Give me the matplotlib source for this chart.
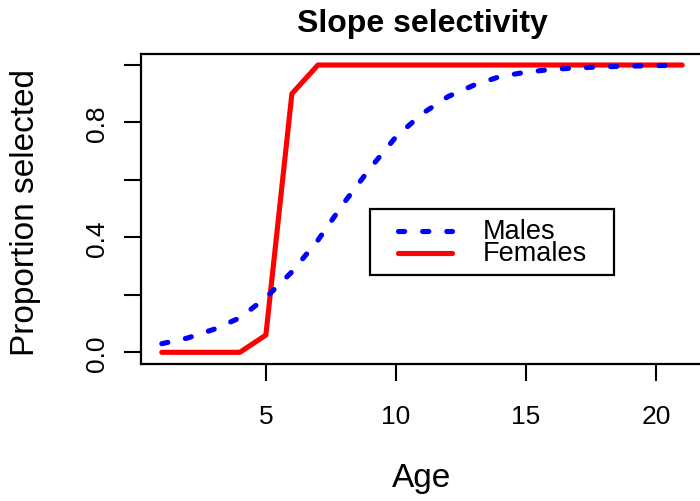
import matplotlib.pyplot as plt
from matplotlib.patches import Rectangle

plt.rcParams['font.family'] = ['Liberation Sans', 'DejaVu Sans']

# selectivity at age for each sex
age = [1, 2, 3, 4, 5, 6, 7, 8, 9, 10, 11, 12, 13, 14, 15, 16, 17, 18, 19, 20, 21]
males = [0.03, 0.05, 0.08, 0.12, 0.19, 0.28, 0.39, 0.52, 0.64, 0.75, 0.83,
         0.89, 0.93, 0.96, 0.975, 0.985, 0.99, 0.994, 0.996, 0.998, 0.999]
females = [0.0, 0.0, 0.0, 0.0, 0.06, 0.90, 1.0, 1.0, 1.0, 1.0, 1.0,
           1.0, 1.0, 1.0, 1.0, 1.0, 1.0, 1.0, 1.0, 1.0, 1.0]

xticks = [5, 10, 15, 20]
yticks = [0.0, 0.2, 0.4, 0.6, 0.8, 1.0]
ytick_labels = ['0.0', '', '0.4', '', '0.8', '']

fig = plt.figure(figsize=(7, 5.02), dpi=100)
ax = fig.add_axes([0.2014, 0.2733, 0.8029, 0.6181])

lw = 3.7
ax.plot(age, females, color='red', lw=lw, solid_capstyle='round', solid_joinstyle='round')
ax.plot(age, males, color='blue', lw=lw, dashes=(1.2, 3.5),
        dash_capstyle='round', dash_joinstyle='round')

ax.set_xlim(0.2, 21.8)
ax.set_ylim(-0.04, 1.04)
ax.set_xticks(xticks)
ax.set_yticks(yticks)
ax.set_yticklabels(ytick_labels)
ax.tick_params(direction='out', length=12, width=1.5, labelsize=19)
ax.tick_params(axis='x', pad=17)
ax.tick_params(axis='y', pad=11, labelrotation=90)
for lab in ax.get_yticklabels():
    lab.set_va('center')
for sp in ax.spines.values():
    sp.set_linewidth(1.6)
    sp.set_clip_on(False)

ax.set_title('Slope selectivity', fontsize=23, fontweight='bold', pad=16)
ax.set_xlabel('Age', fontsize=24, va='center')
ax.xaxis.set_label_coords(0.5, -0.365)
ax.set_ylabel('Proportion selected', fontsize=24, va='center')
ax.yaxis.set_label_coords(-0.206, 0.49)

# legend box, placed at x=9, y=0.5 like legend(9, 0.5, ...)
ax.add_patch(Rectangle((9, 0.269), 9.38, 0.231, fill=False, edgecolor='black', lw=1.6, zorder=3))
ax.plot([10.08, 12.15], [0.422, 0.422], color='blue', lw=lw, dashes=(1.2, 3.5),
        dash_capstyle='round', zorder=3)
ax.plot([10.08, 12.15], [0.346, 0.346], color='red', lw=lw, solid_capstyle='round', zorder=3)
ax.text(13.33, 0.422, 'Males', fontsize=19.5, va='center', ha='left')
ax.text(13.33, 0.346, 'Females', fontsize=19.5, va='center', ha='left')

fig.savefig('out.png', dpi=100)
